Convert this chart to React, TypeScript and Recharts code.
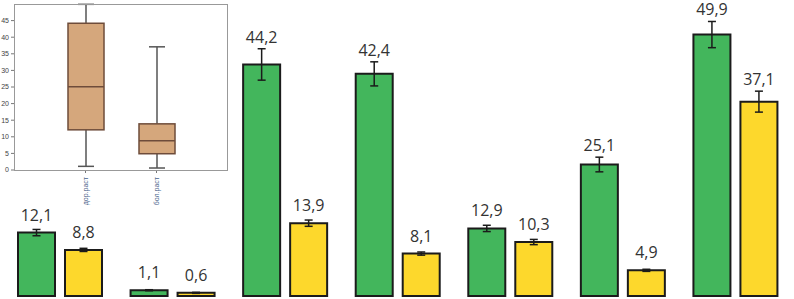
import { ComposedChart, BarChart, Bar, XAxis, YAxis, ErrorBar, LabelList } from 'recharts';

// main grouped bars
const groups = ['1', '2', '3', '4', '5', '6', '7'];
const greenValues = [12.1, 1.1, 44.2, 42.4, 12.9, 25.1, 49.9];
const greenErrors = [0.6, 0.1, 3.0, 2.3, 0.6, 1.4, 2.5];
const yellowValues = [8.8, 0.6, 13.9, 8.1, 10.3, 4.9, 37.1];
const yellowErrors = [0.3, 0.1, 0.6, 0.3, 0.5, 0.2, 2.0];

// inset box plot
const boxCategories = ['здор.раст', 'бол.раст'];
const boxMin = [1.1, 0.6];
const boxQ1 = [12.1, 4.9];
const boxMedian = [25.1, 8.8];
const boxQ3 = [44.2, 13.9];
const boxMax = [49.9, 37.1];
const boxTicks = [0, 5, 10, 15, 20, 25, 30, 35, 40, 45];

const GREEN = '#43b65c';
const YELLOW = '#fdd82c';

const chartData = groups.map((g, i) => ({
  name: g,
  green: greenValues[i],
  greenErr: greenErrors[i],
  yellow: yellowValues[i],
  yellowErr: yellowErrors[i],
}));

const boxData = boxCategories.map((c, i) => ({
  name: c,
  min: boxMin[i],
  q1: boxQ1[i],
  median: boxMedian[i],
  q3: boxQ3[i],
  max: boxMax[i],
}));

const fmt = (v: number) => String(v).replace('.', ',');

const valueLabel = (errors: number[]) => (props: any) => {
  const { x, y, width, height, value, index } = props;
  const ppu = height / value;
  const barTop = y;
  const errTop = y - errors[index] * ppu;
  const base = Math.min(barTop - 12, errTop - 6);
  return (
    <text
      x={x + width / 2}
      y={base}
      textAnchor="middle"
      fontSize={16}
      fontFamily="Open Sans"
      fill="#333"
    >
      {fmt(value)}
    </text>
  );
};

function BoxShape(props: any) {
  const { x, width, payload } = props;
  const h = Math.abs(props.height);
  const top = props.height < 0 ? props.y + props.height : props.y;
  const ppu = h / (payload.q3 - payload.q1);
  const cx = x + width / 2;
  const medY = top + (payload.q3 - payload.median) * ppu;
  const hiY = top - (payload.max - payload.q3) * ppu;
  const loY = top + h + (payload.q1 - payload.min) * ppu;
  const cap = 8;
  return (
    <g>
      <line x1={cx} y1={hiY} x2={cx} y2={top} stroke="#555" strokeWidth={1.5} />
      <line x1={cx} y1={top + h} x2={cx} y2={loY} stroke="#555" strokeWidth={1.5} />
      <line x1={cx - cap} y1={hiY} x2={cx + cap} y2={hiY} stroke="#555" strokeWidth={1.5} />
      <line x1={cx - cap} y1={loY} x2={cx + cap} y2={loY} stroke="#555" strokeWidth={1.5} />
      <rect x={x} y={top} width={width} height={h} fill="#d5a77c" stroke="#6e4c3a" strokeWidth={1.5} />
      <line x1={x} y1={medY} x2={x + width} y2={medY} stroke="#6e4c3a" strokeWidth={1.5} />
    </g>
  );
}

const BoxTick = (props: any) => {
  const { x, y, payload } = props;
  return (
    <text
      transform={`translate(${x},${y + 2}) rotate(-90)`}
      textAnchor="end"
      dominantBaseline="central"
      fontSize={7}
      fontFamily="Liberation Sans"
      fill="#4a628a"
    >
      {payload.value}
    </text>
  );
};

export default function App() {
  return (
    <div style={{ position: 'absolute', left: 0, top: 0, width: 794, height: 299, background: '#fff' }}>
      <BarChart
        width={794}
        height={299}
        data={chartData}
        margin={{ top: 0, right: 2, left: 4, bottom: 3 }}
        barSize={37}
        barGap={10}
      >
        <XAxis dataKey="name" tick={false} tickLine={false} height={0} stroke="#aaa" strokeWidth={1.5} />
        <YAxis hide domain={[0, 56.5]} />
        <Bar dataKey="green" fill={GREEN} stroke="#1b1b1b" strokeWidth={2} isAnimationActive={false}>
          <ErrorBar dataKey="greenErr" width={4} stroke="#1b1b1b" strokeWidth={1.5} direction="y" />
          <LabelList dataKey="green" content={valueLabel(greenErrors)} />
        </Bar>
        <Bar dataKey="yellow" fill={YELLOW} stroke="#1b1b1b" strokeWidth={2} isAnimationActive={false}>
          <ErrorBar dataKey="yellowErr" width={4} stroke="#1b1b1b" strokeWidth={1.5} direction="y" />
          <LabelList dataKey="yellow" content={valueLabel(yellowErrors)} />
        </Bar>
      </BarChart>

      <div style={{ position: 'absolute', left: 0, top: 0, width: 232, height: 205, background: '#fff' }}>
        <ComposedChart
          width={232}
          height={205}
          data={boxData}
          margin={{ top: 4, right: 4, left: 0, bottom: 0 }}
          barSize={36}
        >
          <XAxis
            dataKey="name"
            height={35}
            axisLine={false}
            tickSize={3}
            tickLine={{ stroke: '#777' }}
            padding={{ left: 36, right: 36 }}
            interval={0}
            tick={<BoxTick />}
          />
          <YAxis
            width={14}
            domain={[0, 50]}
            ticks={boxTicks}
            axisLine={false}
            tickSize={3}
            tickLine={{ stroke: '#777' }}
            tick={{ fontSize: 7, fill: '#444', fontFamily: 'Liberation Sans' }}
            interval={0}
          />
          <Bar dataKey={(d: any) => [d.q1, d.q3]} shape={<BoxShape />} isAnimationActive={false} />
        </ComposedChart>
        <div
          style={{
            position: 'absolute',
            left: 14,
            top: 4,
            width: 214,
            height: 167,
            border: '1.5px solid #999',
            boxSizing: 'border-box',
            pointerEvents: 'none',
          }}
        />
      </div>
    </div>
  );
}
